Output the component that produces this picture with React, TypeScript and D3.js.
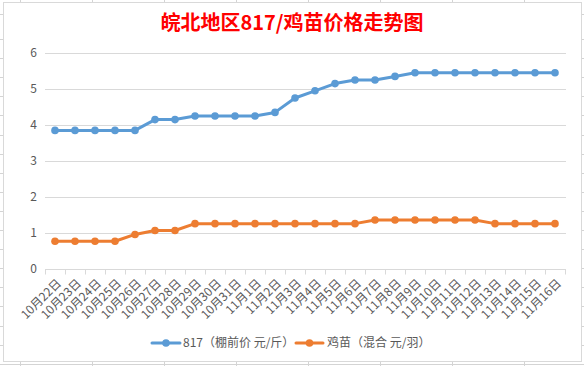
import React, { useEffect, useRef } from "react";
import * as d3 from "d3";

const categories = [
  "10月22日", "10月23日", "10月24日", "10月25日", "10月26日", "10月27日", "10月28日",
  "10月29日", "10月30日", "10月31日", "11月1日", "11月2日", "11月3日", "11月4日",
  "11月5日", "11月6日", "11月7日", "11月8日", "11月9日", "11月10日", "11月11日",
  "11月12日", "11月13日", "11月14日", "11月15日", "11月16日",
];
const series817 = [
  3.85, 3.85, 3.85, 3.85, 3.85, 4.15, 4.15, 4.25, 4.25, 4.25, 4.25, 4.35, 4.75, 4.95,
  5.15, 5.25, 5.25, 5.35, 5.45, 5.45, 5.45, 5.45, 5.45, 5.45, 5.45, 5.45,
];
const seriesChick = [
  0.77, 0.77, 0.77, 0.77, 0.96, 1.07, 1.07, 1.26, 1.26, 1.26, 1.26, 1.26, 1.26, 1.26,
  1.26, 1.26, 1.36, 1.36, 1.36, 1.36, 1.36, 1.36, 1.26, 1.26, 1.26, 1.26,
];
const yTicks = [0, 1, 2, 3, 4, 5, 6];
const seriesNames = ["817（棚前价 元/斤）", "鸡苗（混合 元/羽）"];
const title = "皖北地区817/鸡苗价格走势图";

const W = 584;
const H = 366;
const FONT = "'Noto Sans CJK SC', 'Noto Sans', sans-serif";

export default function App() {
  const ref = useRef<SVGSVGElement | null>(null);

  useEffect(() => {
    const svg = d3.select(ref.current);
    svg.selectAll("*").remove();

    // spreadsheet grid behind the chart
    const colLines = d3.range(8).map((i) => 20 + i * 72);
    const rowLines = [14].concat(d3.range(18).map((i) => 39 + i * 19.1));
    const bg = svg.append("g");
    bg.selectAll("line.c").data(colLines).enter().append("line")
      .attr("x1", (d) => d + 0.5).attr("x2", (d) => d + 0.5)
      .attr("y1", 0).attr("y2", H).attr("stroke", "#d4d4d4");
    bg.selectAll("line.r").data(rowLines).enter().append("line")
      .attr("y1", (d) => Math.round(d) + 0.5).attr("y2", (d) => Math.round(d) + 0.5)
      .attr("x1", 0).attr("x2", W).attr("stroke", "#d4d4d4");

    // chart area
    svg.append("rect").attr("x", 3.5).attr("y", 2.5).attr("width", 578).attr("height", 359)
      .attr("fill", "#fff").attr("stroke", "#d9d9d9");

    const x = d3.scaleBand<string>().domain(categories).range([45, 565]).padding(0);
    const y = d3.scaleLinear().domain([0, 6]).range([269, 53]);
    const cx = (c: string) => (x(c) as number) + x.bandwidth() / 2;

    // title
    svg.append("text").attr("x", 292).attr("y", 30).attr("text-anchor", "middle")
      .attr("font-family", FONT).attr("font-size", 20).attr("font-weight", "bold")
      .attr("fill", "#ff0000").text(title);

    // gridlines
    svg.append("g").selectAll("line").data(yTicks.filter((t) => t > 0)).enter().append("line")
      .attr("x1", 45).attr("x2", 566)
      .attr("y1", (d) => Math.round(y(d)) + 0.5).attr("y2", (d) => Math.round(y(d)) + 0.5)
      .attr("stroke", "#d9d9d9");

    // y labels
    svg.append("g").selectAll("text").data(yTicks).enter().append("text")
      .attr("x", 37).attr("y", (d) => y(d)).attr("dy", "0.35em").attr("text-anchor", "end")
      .attr("font-family", FONT).attr("font-size", 12).attr("fill", "#595959")
      .text((d) => String(d));

    // x axis
    const xAxisY = Math.round(y(0)) + 0.5;
    svg.append("line").attr("x1", 45).attr("x2", 566).attr("y1", xAxisY).attr("y2", xAxisY)
      .attr("stroke", "#d9d9d9");
    const tickXs = categories.map((c) => x(c) as number).concat([565]);
    svg.append("g").selectAll("line").data(tickXs).enter().append("line")
      .attr("x1", (d) => Math.round(d) + 0.5).attr("x2", (d) => Math.round(d) + 0.5)
      .attr("y1", xAxisY).attr("y2", xAxisY + 5).attr("stroke", "#d9d9d9");

    svg.append("g").selectAll("text").data(categories).enter().append("text")
      .attr("transform", (d) => `translate(${cx(d) + 4},${281}) rotate(-45)`)
      .attr("text-anchor", "end").attr("dy", "0.35em")
      .attr("font-family", FONT).attr("font-size", 12).attr("fill", "#595959")
      .text((d) => d);

    // series
    const colors = ["#5b9bd5", "#ed7d31"];
    const allSeries = [series817, seriesChick];
    allSeries.forEach((vals, si) => {
      const line = d3.line<number>().x((_, i) => cx(categories[i])).y((v) => y(v));
      svg.append("path").attr("d", line(vals) as string).attr("fill", "none")
        .attr("stroke", colors[si]).attr("stroke-width", 3).attr("stroke-linejoin", "round")
        .attr("stroke-linecap", "round");
      svg.append("g").selectAll("circle").data(vals).enter().append("circle")
        .attr("cx", (_, i) => cx(categories[i])).attr("cy", (v) => y(v)).attr("r", 3.8)
        .attr("fill", colors[si]);
    });

    // legend
    const legendItems = [
      { x0: 152, x1: 180, tx: 183 },
      { x0: 296, x1: 323, tx: 327 },
    ];
    legendItems.forEach((it, i) => {
      const ly = 343;
      svg.append("line").attr("x1", it.x0).attr("x2", it.x1).attr("y1", ly).attr("y2", ly)
        .attr("stroke", colors[i]).attr("stroke-width", 3).attr("stroke-linecap", "round");
      svg.append("circle").attr("cx", (it.x0 + it.x1) / 2).attr("cy", ly).attr("r", 3.8)
        .attr("fill", colors[i]);
      svg.append("text").attr("x", it.tx).attr("y", ly).attr("dy", "0.35em")
        .attr("font-family", FONT).attr("font-size", 12).attr("fill", "#595959")
        .text(seriesNames[i]);
    });
  }, []);

  return (
    <svg
      ref={ref}
      width={W}
      height={H}
      style={{ position: "absolute", left: 0, top: 0, background: "#fff" }}
    />
  );
}
